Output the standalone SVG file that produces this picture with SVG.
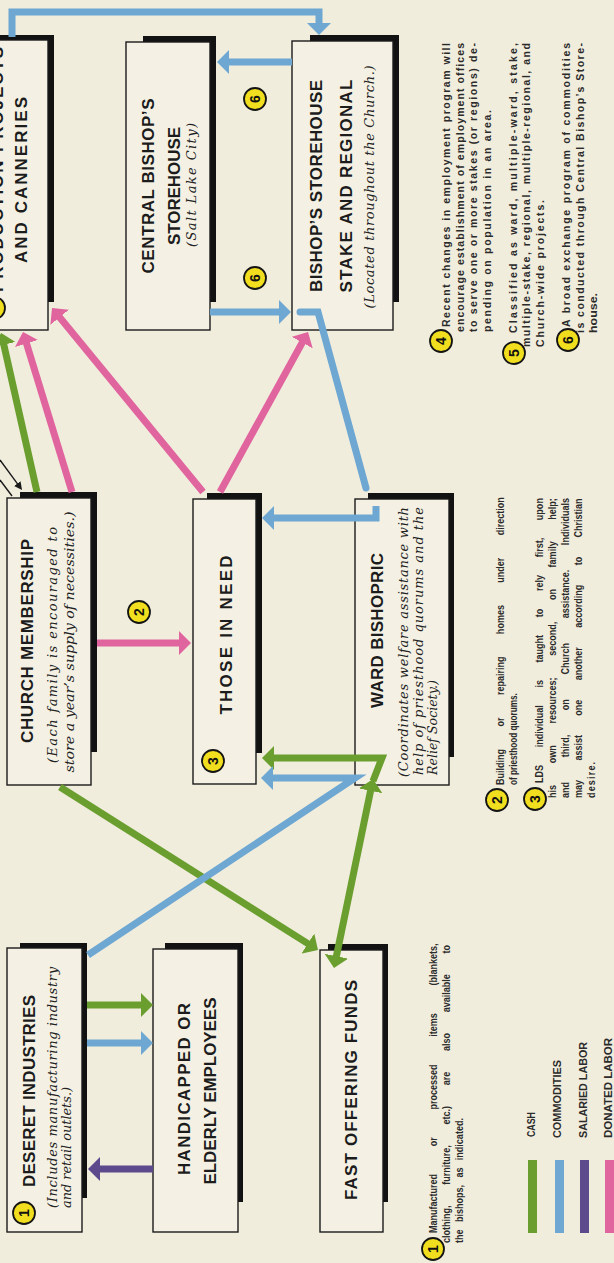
<svg xmlns="http://www.w3.org/2000/svg" width="614" height="1263" viewBox="0 0 614 1263">
<style>
.bg{fill:#f1eddd}
.box{fill:#f4f1e4;stroke:#1a1a1a;stroke-width:1.4}
.sh{fill:#121212}
.h{font-family:"Liberation Sans",Arial,sans-serif;font-weight:bold;font-size:17px;fill:#1c1c1c}
.i{font-family:"DejaVu Serif","Liberation Serif",serif;font-style:italic;font-size:13px;fill:#222}
.n{font-family:"Liberation Sans",Arial,sans-serif;font-weight:bold;font-size:10.5px;fill:#2b2b2b}
.nn{font-family:"Liberation Sans",Arial,sans-serif;font-weight:bold;font-size:11px;fill:#2b2b2b}
.lg{font-family:"Liberation Sans",Arial,sans-serif;font-weight:bold;font-size:10px;fill:#2b2b2b}
.m{text-anchor:middle}
.cir{fill:#f1de1f;stroke:#141414;stroke-width:1.8}
.num{font-family:"Liberation Sans",Arial,sans-serif;font-weight:bold;font-size:14px;fill:#111;text-anchor:middle;dominant-baseline:central}
.ln{fill:none;stroke-width:7;stroke-linejoin:miter}
.g{stroke:#6a9e2e}
.b{stroke:#6da7d2}
.p{stroke:#e0649e}
.v{stroke:#5c4a8c}
.k{fill:none;stroke:#1a1a1a;stroke-width:1.4}
</style>
<defs>
<marker id="ag" viewBox="0 0 12 24" refX="1" refY="12" markerWidth="12" markerHeight="24" markerUnits="userSpaceOnUse" orient="auto-start-reverse"><path d="M0,0 L12,12 L0,24 Z" fill="#6a9e2e"/></marker>
<marker id="ab" viewBox="0 0 12 24" refX="1" refY="12" markerWidth="12" markerHeight="24" markerUnits="userSpaceOnUse" orient="auto-start-reverse"><path d="M0,0 L12,12 L0,24 Z" fill="#6da7d2"/></marker>
<marker id="ap" viewBox="0 0 12 24" refX="1" refY="12" markerWidth="12" markerHeight="24" markerUnits="userSpaceOnUse" orient="auto-start-reverse"><path d="M0,0 L12,12 L0,24 Z" fill="#e0649e"/></marker>
<marker id="av" viewBox="0 0 12 24" refX="1" refY="12" markerWidth="12" markerHeight="24" markerUnits="userSpaceOnUse" orient="auto-start-reverse"><path d="M0,0 L12,12 L0,24 Z" fill="#5c4a8c"/></marker>
<marker id="ak" viewBox="0 0 8 8" refX="1" refY="4" markerWidth="8" markerHeight="8" markerUnits="userSpaceOnUse" orient="auto"><path d="M0,0 L8,4 L0,8 Z" fill="#1a1a1a"/></marker>
</defs>
<rect class="bg" x="0" y="0" width="614" height="1263"/>

<g id="production">
<rect class="sh" x="-10" y="35" width="64" height="267"/>
<rect class="box" x="-20" y="40" width="68" height="290"/>
<circle class="cir" cx="-6" cy="308" r="11"/>
<text class="h" transform="translate(3 292) rotate(-90)" textLength="245">PRODUCTION PROJECTS</text>
<text class="h m" transform="translate(27 180) rotate(-90)" textLength="166">AND CANNERIES</text>
</g>

<g id="central-storehouse">
<rect class="sh" x="143" y="36" width="73" height="266"/>
<rect class="box" x="126" y="42" width="84" height="288"/>
<text class="h m" transform="translate(154 186) rotate(-90)" textLength="175">CENTRAL BISHOP’S</text>
<text class="h m" transform="translate(180 186) rotate(-90)" textLength="118">STOREHOUSE</text>
<text class="i m" transform="translate(196 185) rotate(-90)" textLength="124">(Salt Lake City)</text>
</g>

<g id="stake-storehouse">
<rect class="sh" x="310" y="35" width="89" height="267"/>
<rect class="box" x="292" y="41" width="101" height="289"/>
<text class="h m" transform="translate(322 186) rotate(-90)" textLength="212">BISHOP’S STOREHOUSE</text>
<text class="h m" transform="translate(352 186) rotate(-90)" textLength="213">STAKE AND REGIONAL</text>
<text class="i m" transform="translate(374 187) rotate(-90)" textLength="243">(Located throughout the Church.)</text>
</g>

<g id="church-membership">
<rect class="sh" x="20" y="492" width="77" height="260"/>
<rect class="box" x="7" y="498" width="84" height="287"/>
<text class="h m" transform="translate(33 641) rotate(-90)" textLength="204">CHURCH MEMBERSHIP</text>
<text class="i m" transform="translate(57 645) rotate(-90)" textLength="236">(Each family is encouraged to</text>
<text class="i m" transform="translate(74 642) rotate(-90)" textLength="261" lengthAdjust="spacingAndGlyphs">store a year’s supply of necessities.)</text>
</g>

<g id="those-in-need">
<rect class="sh" x="207" y="493" width="55" height="260"/>
<rect class="box" x="193" y="499" width="63" height="285"/>
<text class="h m" transform="translate(232 635) rotate(-90)" textLength="159">THOSE IN NEED</text>
<circle class="cir" cx="213" cy="761" r="11"/>
<text class="num" transform="translate(213 761) rotate(-90)">3</text>
</g>

<g id="ward-bishopric">
<rect class="sh" x="368" y="493" width="86" height="264"/>
<rect class="box" x="355" y="499" width="94" height="286"/>
<text class="h" transform="translate(383 708) rotate(-90)" textLength="155">WARD BISHOPRIC</text>
<text class="i" transform="translate(408 777) rotate(-90)" textLength="270">(Coordinates welfare assistance with</text>
<text class="i" transform="translate(423 775) rotate(-90)" textLength="268">help of priesthood quorums and the</text>
<text class="i" transform="translate(437 775) rotate(-90)" textLength="95" lengthAdjust="spacingAndGlyphs">Relief Society.)</text>
</g>

<g id="deseret-industries">
<rect class="sh" x="20" y="943" width="67" height="255"/>
<rect class="box" x="7" y="948" width="75" height="284"/>
<circle class="cir" cx="24" cy="1213" r="11"/>
<text class="num" transform="translate(24 1213) rotate(-90)">1</text>
<text class="h" transform="translate(35 1187) rotate(-90)" textLength="192">DESERET INDUSTRIES</text>
<text class="i" transform="translate(57 1208) rotate(-90)" textLength="241">(Includes manufacturing industry</text>
<text class="i" transform="translate(71 1208) rotate(-90)" textLength="121" lengthAdjust="spacingAndGlyphs">and retail outlets.)</text>
</g>

<g id="handicapped">
<rect class="sh" x="165" y="943" width="78" height="259"/>
<rect class="box" x="153" y="949" width="85" height="283"/>
<text class="h m" transform="translate(190 1089) rotate(-90)" textLength="172">HANDICAPPED OR</text>
<text class="h m" transform="translate(216 1091) rotate(-90)" textLength="187">ELDERLY EMPLOYEES</text>
</g>

<g id="fast-offering">
<rect class="sh" x="328" y="944" width="60" height="258"/>
<rect class="box" x="320" y="950" width="63" height="282"/>
<text class="h m" transform="translate(357 1090) rotate(-90)" textLength="220">FAST OFFERING FUNDS</text>
</g>

<g id="connectors">
<path class="ln b" d="M12,37 L12,12 L319,12 L319,24" marker-end="url(#ab)"/>
<path class="ln b" d="M292,62 L228,62" marker-end="url(#ab)"/>
<path class="ln b" d="M210,312 L280,312" marker-end="url(#ab)"/>
<path class="ln p" d="M220,492 L302.7,341.7" marker-end="url(#ap)"/>
<path class="ln p" d="M203,492 L59,316.5" marker-end="url(#ap)"/>
<path class="ln p" d="M72,492 L26.2,342.5" marker-end="url(#ap)"/>
<path class="ln g" d="M37,492 L3.6,343.7" marker-end="url(#ag)"/>
<path class="k" d="M0,460 L17.9,484.4" marker-end="url(#ak)"/>
<path class="k" d="M0,480 L12,496"/>
<path class="ln p" d="M97,643 L180,643" marker-end="url(#ap)"/>
<path class="ln g" d="M60,787 L308.7,944.1" marker-end="url(#ag)"/>
<path class="ln g" d="M336.2,957.2 L370.8,789.8" marker-start="url(#ag)" marker-end="url(#ag)"/>
<path class="ln g" d="M373,781 L382,758 L273,758" marker-end="url(#ag)"/>
<path class="ln b" d="M88,955 L355,778 L272,778" marker-end="url(#ab)"/>
<path class="ln b" d="M300,312 L318,312 L366,488" stroke-linecap="round"/>
<path class="ln b" d="M376,506 L376,518 L273,518" marker-end="url(#ab)"/>
<path class="ln g" d="M87,1005 L142,1005" marker-end="url(#ag)"/>
<path class="ln b" d="M87,1043 L142,1043" marker-end="url(#ab)"/>
<path class="ln v" d="M153,1169 L99,1169" marker-end="url(#av)"/>
</g>

<g id="flow-labels">
<circle class="cir" cx="139" cy="612" r="11"/>
<text class="num" transform="translate(139 612) rotate(-90)">2</text>
<circle class="cir" cx="255" cy="99" r="11"/>
<text class="num" transform="translate(255 99) rotate(-90)">6</text>
<circle class="cir" cx="255" cy="278" r="11"/>
<text class="num" transform="translate(255 278) rotate(-90)">6</text>
</g>

<g id="notes">
<circle class="cir" cx="433" cy="1249" r="11"/>
<text class="num" transform="translate(433 1249) rotate(-90)">1</text>
<text class="nn" transform="translate(437 1233) rotate(-90) scale(0.82 1)" word-spacing="30.7">Manufactured or processed items (blankets,</text>
<text class="nn" transform="translate(450 1243) rotate(-90) scale(0.82 1)" word-spacing="22.2">clothing, furniture, etc.) are also available to</text>
<text class="nn" transform="translate(463 1243) rotate(-90) scale(0.82 1)" word-spacing="6">the bishops, as indicated.</text>

<circle class="cir" cx="497" cy="800" r="11"/>
<text class="num" transform="translate(497 800) rotate(-90)">2</text>
<text class="nn" transform="translate(504 785) rotate(-90) scale(0.82 1)" word-spacing="24.3">Building or repairing homes under direction</text>
<text class="nn" transform="translate(517 785) rotate(-90) scale(0.82 1)" textLength="112" lengthAdjust="spacingAndGlyphs">of priesthood quorums.</text>

<circle class="cir" cx="535" cy="799" r="11"/>
<text class="num" transform="translate(535 799) rotate(-90)">3</text>
<text class="nn" transform="translate(543 783) rotate(-90) scale(0.82 1)" word-spacing="18.5">LDS individual is taught to rely first, upon</text>
<text class="nn" transform="translate(556 798) rotate(-90) scale(0.82 1)" word-spacing="23.4">his own resources; second, on family help;</text>
<text class="nn" transform="translate(569 798) rotate(-90) scale(0.82 1)" word-spacing="27">and third, on Church assistance. Individuals</text>
<text class="nn" transform="translate(582 798) rotate(-90) scale(0.82 1)" word-spacing="20.6">may assist one another according to Christian</text>
<text class="nn" transform="translate(595 798) rotate(-90) scale(0.82 1)" textLength="44">desire.</text>

<circle class="cir" cx="441" cy="341" r="11"/>
<text class="num" transform="translate(441 341) rotate(-90)">4</text>
<text class="n" transform="translate(450 327) rotate(-90)" textLength="284">Recent changes in employment program will</text>
<text class="n" transform="translate(463.5 332) rotate(-90)" textLength="289">encourage establishment of employment offices</text>
<text class="n" transform="translate(477 332) rotate(-90)" textLength="289">to serve one or more stakes (or regions) de-</text>
<text class="n" transform="translate(490.5 332) rotate(-90)" textLength="222">pending on population in an area.</text>

<circle class="cir" cx="514" cy="353" r="11"/>
<text class="num" transform="translate(514 353) rotate(-90)">5</text>
<text class="n" transform="translate(517 333) rotate(-90)" textLength="290">Classified as ward, multiple-ward, stake,</text>
<text class="n" transform="translate(530 347) rotate(-90)" textLength="304">multiple-stake, regional, multiple-regional, and</text>
<text class="n" transform="translate(544 347) rotate(-90)" textLength="147">Church-wide projects.</text>

<circle class="cir" cx="568" cy="340" r="11"/>
<text class="num" transform="translate(568 340) rotate(-90)">6</text>
<text class="n" transform="translate(570 327) rotate(-90)" textLength="284">A broad exchange program of commodities</text>
<text class="n" transform="translate(584 333) rotate(-90)" textLength="290">is conducted through Central Bishop’s Store-</text>
<text class="n" transform="translate(597 333) rotate(-90)" textLength="40" lengthAdjust="spacingAndGlyphs">house.</text>
</g>

<g id="legend">
<rect x="528" y="1160" width="9" height="73" fill="#6a9e2e"/>
<text class="lg" transform="translate(535 1137) rotate(-90)" textLength="25" lengthAdjust="spacingAndGlyphs">CASH</text>
<rect x="555" y="1160" width="9" height="73" fill="#6da7d2"/>
<text class="lg" transform="translate(561 1138) rotate(-90)" textLength="78" lengthAdjust="spacingAndGlyphs">COMMODITIES</text>
<rect x="580" y="1160" width="9" height="73" fill="#5c4a8c"/>
<text class="lg" transform="translate(587 1138) rotate(-90)" textLength="96" lengthAdjust="spacingAndGlyphs">SALARIED LABOR</text>
<rect x="605" y="1160" width="9" height="73" fill="#e0649e"/>
<text class="lg" transform="translate(612 1138) rotate(-90)" textLength="100" lengthAdjust="spacingAndGlyphs">DONATED LABOR</text>
</g>
</svg>
